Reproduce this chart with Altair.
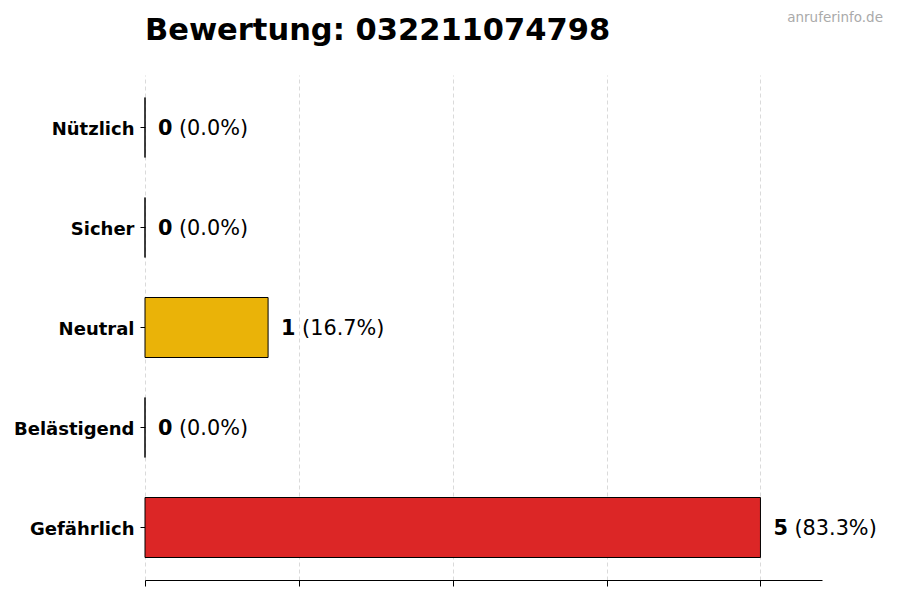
import altair as alt
import pandas as pd

categories = ["Nützlich", "Sicher", "Neutral", "Belästigend", "Gefährlich"]
counts = [0, 0, 1, 0, 5]
percents = ["(0.0%)", "(0.0%)", "(16.7%)", "(0.0%)", "(83.3%)"]
colors = ["#16A34A", "#3B82F6", "#EAB308", "#F97316", "#DC2626"]
tick_values = [0, 1.25, 2.5, 3.75, 5]
title_text = "Bewertung: 032211074798"
watermark = "anruferinfo.de"

df = pd.DataFrame({
    "cat": categories,
    "count": counts,
    "pct": percents,
    "color": colors,
    "num": [str(c) for c in counts],
})

FONT = "DejaVu Sans"

y_enc = alt.Y(
    "cat:N",
    sort=categories,
    scale=alt.Scale(paddingInner=0.4, paddingOuter=0.225),
    axis=alt.Axis(
        title=None, domain=False, tickSize=5, tickColor="black", tickWidth=1,
        labelFont=FONT, labelFontWeight="bold", labelFontSize=18,
        labelColor="black", labelPadding=6, grid=False, labelOffset=2,
    ),
)
x_enc = alt.X(
    "count:Q",
    scale=alt.Scale(domain=[0, 5.5], nice=False, zero=True),
    axis=alt.Axis(
        title=None, values=tick_values, labels=False, tickSize=6,
        tickColor="black", domainColor="black", domainWidth=1,
        grid=True, gridColor="#d0d0d0", gridDash=[4, 3], gridWidth=0.8,
    ),
)

base = alt.Chart(df)

bars = base.mark_bar(stroke="black", strokeWidth=1, strokeOpacity=1).encode(
    x=x_enc,
    y=y_enc,
    color=alt.Color("color:N", scale=None, legend=None),
)

nums = base.mark_text(
    align="left", baseline="middle", dx=13, dy=1, font=FONT, fontWeight="bold",
    fontSize=20.8, color="black",
).encode(x="count:Q", y=alt.Y("cat:N", sort=categories), text="num:N")

pcts = base.mark_text(
    align="left", baseline="middle", dx=34, dy=1, font=FONT, fontSize=20.8,
    color="black",
).encode(x="count:Q", y=alt.Y("cat:N", sort=categories), text="pct:N")

wm = alt.Chart(pd.DataFrame({"t": [watermark]})).mark_text(
    align="right", baseline="alphabetic", font=FONT, fontSize=13.5,
    color="#aaaaaa",
).encode(x=alt.value(738), y=alt.value(-53), text="t:N")

ttl = alt.Chart(pd.DataFrame({"t": [title_text]})).mark_text(
    align="left", baseline="alphabetic", font=FONT, fontSize=30.5,
    fontWeight="bold", color="black",
).encode(x=alt.value(0), y=alt.value(-35), text="t:N")

chart = alt.layer(bars, nums, pcts, wm, ttl).properties(
    width=677,
    height=505,
    autosize=alt.AutoSizeParams(type="none"),
    padding={"left": 137, "top": 67, "right": 70, "bottom": 12},
).configure(background="white").configure_view(stroke=None)

chart.save("out.html", embed_options={"renderer": "svg", "actions": False})
